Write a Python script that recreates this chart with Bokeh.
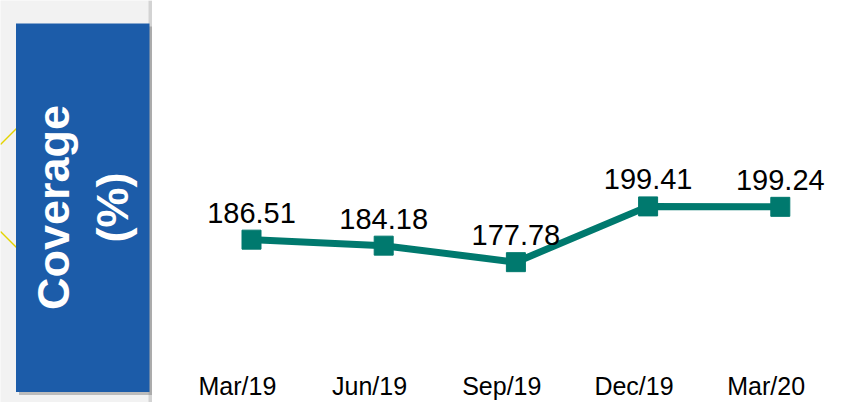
import math
from bokeh.plotting import figure
from bokeh.models import (Range1d, FixedTicker, BoxAnnotation, Label,
                          ColumnDataSource, LinearAxis)
from bokeh.layouts import row
from bokeh.embed import file_html
from bokeh.resources import INLINE
from bokeh.core.properties import value

# ---- data ----
periods = ["Mar/19", "Jun/19", "Sep/19", "Dec/19", "Mar/20"]
coverage = [186.51, 184.18, 177.78, 199.41, 199.24]
value_labels = ["186.51", "184.18", "177.78", "199.41", "199.24"]
title_line1 = "Coverage"
title_line2 = "(%)"

FONT = "Liberation Sans"
TEAL = "#00796E"
BLUE = "#1c5ca9"
BG = "#f2f2f2"
H = 402
TOTAL_W = 835

idx = list(range(len(periods)))
src = ColumnDataSource(dict(x=idx, y=coverage, label=value_labels))

# ---- left panel (blue title box) ----
LW = 152
left = figure(width=LW, height=H, x_range=Range1d(0, LW), y_range=Range1d(0, H),
              output_backend="svg", toolbar_location=None,
              x_axis_location=None, y_axis_location=None, min_border=0)
left.grid.visible = False
left.outline_line_color = None
left.background_fill_color = BG
left.border_fill_color = BG

# faint yellow background lines
left.segment(x0=[0, 0], y0=[258, 171], x1=[16, 16], y1=[274, 155],
             line_color="#e3d300", line_width=1.5)

# shadow of the white panel on its left edge
left.add_layout(BoxAnnotation(left=148, right=LW, bottom=0, top=H,
                              fill_color="#9a9a9a", fill_alpha=0.35, line_color=None))
# shadow of the blue box
left.add_layout(BoxAnnotation(left=18.5, right=152, bottom=7.5, top=376,
                              fill_color="#7a7a7a", fill_alpha=0.45, line_color=None))
left.add_layout(BoxAnnotation(left=15.5, right=149, bottom=10.5, top=379,
                              fill_color=BLUE, fill_alpha=1.0, line_color=None))

left.add_layout(Label(x=53, y=195, text=title_line1, angle=math.pi / 2,
                      text_align="center", text_baseline="middle",
                      text_font=FONT, text_font_style="bold",
                      text_font_size="45px", text_color="white"))
left.add_layout(Label(x=112, y=195, text=title_line2, angle=math.pi / 2,
                      text_align="center", text_baseline="middle",
                      text_font=FONT, text_font_style="bold",
                      text_font_size="45px", text_color="white"))

# ---- right panel (chart) ----
W = TOTAL_W - LW
step = 132.2
first_px = 99
x_start = -first_px / step
x_end = (W - first_px) / step
shift = 14.1 / step

p = figure(width=W, height=H, output_backend="svg", toolbar_location=None,
           x_range=Range1d(x_start, x_end), y_range=Range1d(123.34, 279.28),
           x_axis_location=None, y_axis_location=None, min_border=0)
p.extra_x_ranges = {"labels": Range1d(x_start + shift, x_end + shift)}
p.grid.visible = False
p.outline_line_color = None
p.background_fill_color = "white"
p.border_fill_color = "white"

xaxis = LinearAxis(x_range_name="labels", ticker=FixedTicker(ticks=idx),
                   major_label_overrides={i: lab for i, lab in zip(idx, periods)},
                   fixed_location=140.0)
xaxis.axis_line_color = None
xaxis.major_tick_line_color = None
xaxis.minor_tick_line_color = None
xaxis.major_label_text_font = FONT
xaxis.major_label_text_font_size = "25px"
xaxis.major_label_text_color = "black"
xaxis.major_label_standoff = 6
p.add_layout(xaxis, "below")

p.line("x", "y", source=src, line_color=TEAL, line_width=7)
p.scatter("x", "y", source=src, marker="square", size=19,
          fill_color=TEAL, line_color=TEAL)
p.text("x", "y", text="label", source=src, text_align="center",
       text_baseline="alphabetic", y_offset=-27,
       text_font=value(FONT), text_font_size="29px", text_color="black")

layout = row(left, p, spacing=0)
open("out.html", "w").write(file_html(layout, INLINE))
